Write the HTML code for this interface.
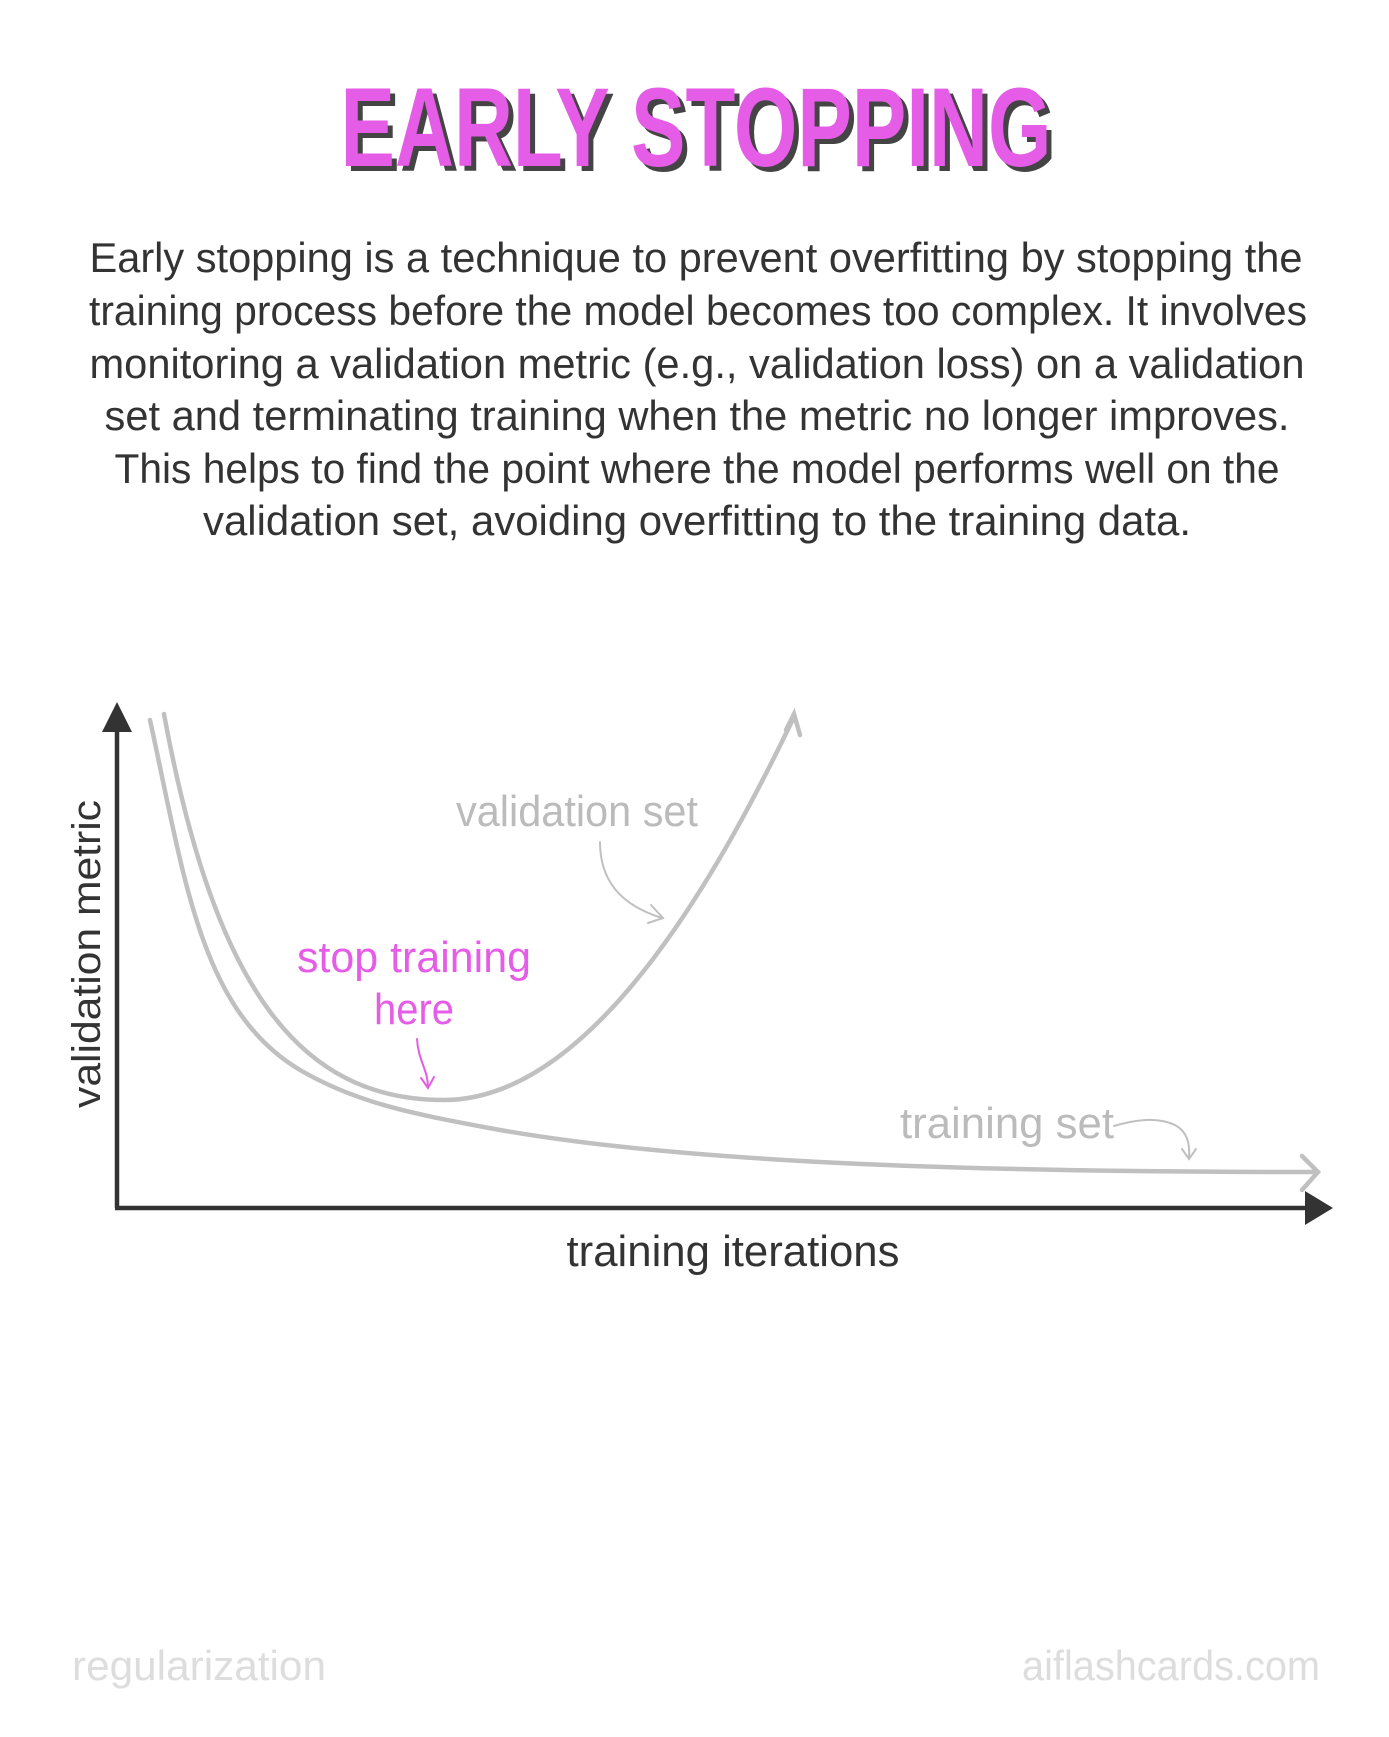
<!DOCTYPE html>
<html><head><meta charset="utf-8"><style>
html,body{margin:0;padding:0;background:#fff;}
svg{display:block;}
text{font-family:"Liberation Sans Narrow","Liberation Sans",sans-serif;}
</style></head><body>
<svg width="1389" height="1737" viewBox="0 0 1389 1737" xmlns="http://www.w3.org/2000/svg">
<!-- Title -->
<text x="701" y="171" text-anchor="middle" font-size="112" font-weight="bold" fill="#444" textLength="711" lengthAdjust="spacingAndGlyphs">EARLY STOPPING</text>
<text x="696" y="166" text-anchor="middle" font-size="112" font-weight="bold" fill="#e55ce6" textLength="711" lengthAdjust="spacingAndGlyphs">EARLY STOPPING</text>
<!-- Paragraph -->
<g font-size="42" fill="#333" text-anchor="middle">
<text x="696" y="272" textLength="1213" lengthAdjust="spacingAndGlyphs">Early stopping is a technique to prevent overfitting by stopping the</text>
<text x="698" y="325" textLength="1218" lengthAdjust="spacingAndGlyphs">training process before the model becomes too complex. It involves</text>
<text x="697" y="378" textLength="1215" lengthAdjust="spacingAndGlyphs">monitoring a validation metric (e.g., validation loss) on a validation</text>
<text x="697" y="430" textLength="1185" lengthAdjust="spacingAndGlyphs">set and terminating training when the metric no longer improves.</text>
<text x="697" y="483" textLength="1165" lengthAdjust="spacingAndGlyphs">This helps to find the point where the model performs well on the</text>
<text x="697" y="535" textLength="988" lengthAdjust="spacingAndGlyphs">validation set, avoiding overfitting to the training data.</text>
</g>
<!-- Axes -->
<line x1="117" y1="725" x2="117" y2="1208" stroke="#333" stroke-width="4.5"/>
<polygon points="117,702 102,732 132,732" fill="#333"/>
<line x1="115" y1="1208" x2="1310" y2="1208" stroke="#333" stroke-width="4.5"/>
<polygon points="1333,1208 1305,1191 1305,1225" fill="#333"/>
<!-- curves -->
<g fill="none" stroke="#c0c0c0" stroke-width="4.5" stroke-linecap="round">
<path d="M164,714 C215,990 300,1100 444,1100 C600,1100 730,850 794,717"/>
<path d="M786,730 L794,714 L800,735"/>
<path d="M150,720 C185,880 200,1010 300,1070 C360,1105 420,1115 500,1130 C700,1165 1000,1172 1317,1172"/>
<path d="M1302,1156 L1318,1172 L1302,1190"/>
<path d="M600,842 C600,880 620,905 662,918" stroke-width="2"/>
<path d="M651,905 L663,918 L648,923" stroke-width="2"/>
<path d="M1114,1126 C1140,1118 1160,1118 1175,1125 C1188,1132 1190,1145 1189,1158" stroke-width="2"/>
<path d="M1182,1149 L1189,1159 L1196,1149" stroke-width="2"/>
</g>
<g fill="none" stroke="#e55ce6" stroke-width="2" stroke-linecap="round">
<path d="M417,1039 C418,1060 428,1070 428,1087"/>
<path d="M421,1078 L428,1088 L434,1077"/>
</g>
<!-- labels -->
<text x="577" y="826" text-anchor="middle" font-size="44" fill="#bbb" textLength="242" lengthAdjust="spacingAndGlyphs">validation set</text>
<text x="414" y="972" text-anchor="middle" font-size="44" fill="#e55ce6" textLength="234" lengthAdjust="spacingAndGlyphs">stop training</text>
<text x="414" y="1024" text-anchor="middle" font-size="44" fill="#e55ce6" textLength="80" lengthAdjust="spacingAndGlyphs">here</text>
<text x="1007" y="1138" text-anchor="middle" font-size="44" fill="#bbb" textLength="214" lengthAdjust="spacingAndGlyphs">training set</text>
<text transform="translate(100,954) rotate(-90)" x="0" y="0" text-anchor="middle" font-size="40" fill="#333" textLength="308" lengthAdjust="spacingAndGlyphs">validation metric</text>
<text x="733" y="1266" text-anchor="middle" font-size="44" fill="#333" textLength="333" lengthAdjust="spacingAndGlyphs">training iterations</text>
<!-- footer -->
<text x="72" y="1680" font-size="42" fill="#ddd" textLength="254" lengthAdjust="spacingAndGlyphs">regularization</text>
<text x="1320" y="1680" text-anchor="end" font-size="42" fill="#ddd" textLength="298" lengthAdjust="spacingAndGlyphs">aiflashcards.com</text>
</svg>
</body></html>
